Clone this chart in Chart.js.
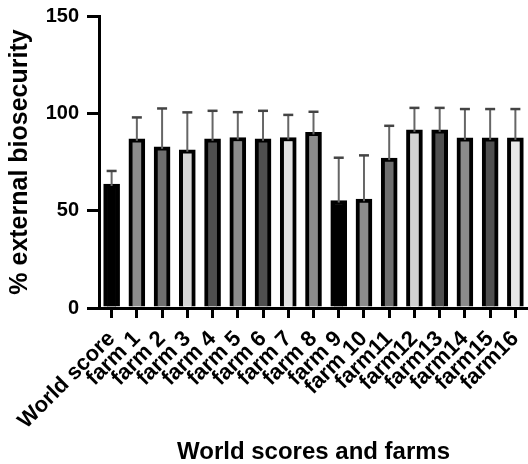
<!DOCTYPE html>
<html>
<head>
<meta charset="utf-8">
<script src="https://cdn.jsdelivr.net/npm/chart.js@4.4.0/dist/chart.umd.min.js"></script>
<style>
  body { margin: 0; background: #fff; }
</style>
</head>
<body>
<canvas id="bio-chart" width="528" height="464"></canvas>
<script>
// data
const labels = ['World score', 'farm 1', 'farm 2', 'farm 3', 'farm 4', 'farm 5', 'farm 6', 'farm 7',
  'farm 8', 'farm 9', 'farm 10', 'farm11', 'farm12', 'farm13', 'farm14', 'farm15', 'farm16'];
const means = [63.7, 86.9, 82.8, 81.3, 86.9, 87.6, 86.9, 87.6, 90.2, 55.2, 55.9, 77.0, 91.5, 91.5, 87.4, 87.4, 87.4];
const sdUp = [6.7, 11.0, 19.7, 19.2, 14.4, 13.0, 14.4, 11.6, 10.6, 22.0, 22.5, 16.6, 11.3, 11.3, 14.8, 14.8, 14.8];
const fills = ['#000000', '#8c8c8c', '#6e6e6e', '#d6d6d6', '#4f4f4f', '#8c8c8c', '#4f4f4f', '#e2e2e2',
  '#8c8c8c', '#000000', '#8c8c8c', '#6e6e6e', '#d2d2d2', '#4f4f4f', '#8c8c8c', '#4f4f4f', '#e6e6e6'];
const yTicks = [0, 50, 100, 150];

const FONT = "'Liberation Sans', Arial, sans-serif";

// upper error bars (mean + SD)
const errorBars = {
  id: 'errorBars',
  afterDatasetsDraw(chart) {
    const ctx = chart.ctx;
    const y = chart.scales.y;
    const meta = chart.getDatasetMeta(0);
    ctx.save();
    meta.data.forEach((bar, i) => {
      const top = y.getPixelForValue(means[i] + sdUp[i]);
      ctx.strokeStyle = '#666';
      ctx.lineWidth = 2;
      ctx.beginPath();
      ctx.moveTo(bar.x, bar.y + 2);
      ctx.lineTo(bar.x, top);
      ctx.stroke();
      ctx.strokeStyle = '#444';
      ctx.lineWidth = 2.5;
      ctx.beginPath();
      ctx.moveTo(bar.x - 5, top);
      ctx.lineTo(bar.x + 5, top);
      ctx.stroke();
    });
    ctx.restore();
  }
};

const ctx = document.getElementById('bio-chart').getContext('2d');
new Chart(ctx, {
  type: 'bar',
  data: {
    labels: labels,
    datasets: [{
      data: means,
      backgroundColor: fills,
      borderColor: '#000',
      borderWidth: 4,
      borderSkipped: 'bottom',
      barThickness: 16
    }]
  },
  options: {
    responsive: false,
    animation: false,
    layout: { padding: { top: 16, right: 0, left: 0, bottom: 0 } },
    plugins: { legend: { display: false }, tooltip: { enabled: false } },
    scales: {
      x: {
        afterFit(scale) { scale.height = 156; scale.paddingLeft = 0; scale.paddingRight = 0; },
        grid: { offset: false, drawOnChartArea: false, drawTicks: true, tickLength: 10, lineWidth: 3, color: '#000' },
        border: { display: true, width: 3, color: '#000' },
        ticks: {
          color: '#000', autoSkip: false, minRotation: 45, maxRotation: 45, padding: 8,
          font: { family: FONT, size: 22, weight: 'bold' }
        },
        title: {
          display: true, text: 'World scores and farms', color: '#000',
          padding: { top: 0, bottom: 0 },
          font: { family: FONT, size: 24, weight: 'bold', lineHeight: 1 }
        }
      },
      y: {
        min: 0, max: 150,
        afterFit(scale) { scale.width = 99; scale.paddingTop = 0; scale.paddingBottom = 0; },
        afterBuildTicks(scale) { scale.ticks = yTicks.map(v => ({ value: v })); },
        grid: { drawOnChartArea: false, drawTicks: true, tickLength: 12, lineWidth: 3, color: '#000' },
        border: { display: true, width: 3, color: '#000' },
        ticks: {
          color: '#000', padding: 8,
          font: { family: FONT, size: 20, weight: 'bold', lineHeight: 1 }
        },
        title: {
          display: true, text: '% external biosecurity', color: '#000',
          padding: { top: 8, bottom: 0 },
          font: { family: FONT, size: 25, weight: 'bold', lineHeight: 1 }
        }
      }
    }
  },
  plugins: [errorBars]
});
</script>
</body>
</html>
